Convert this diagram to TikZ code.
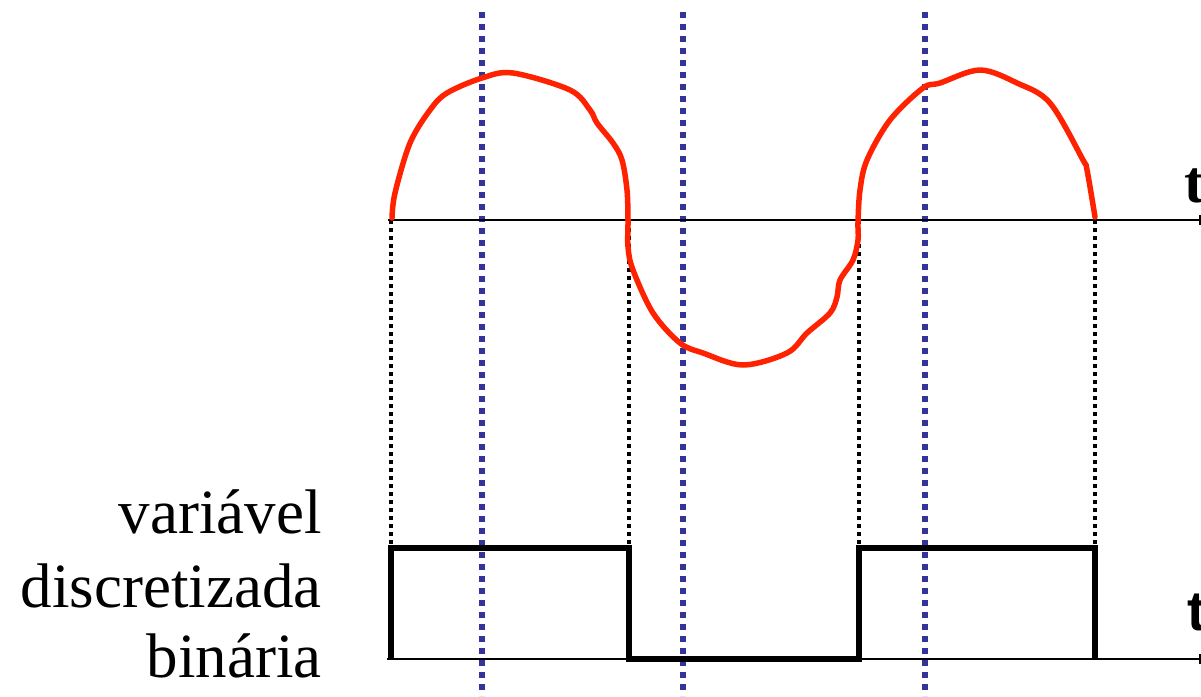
\documentclass[tikz,border=0pt]{standalone}
\usepackage{fontspec}
\setmainfont{Liberation Serif}
\newfontfamily\sansbold{Liberation Sans}
\usetikzlibrary{arrows.meta}
\definecolor{sigred}{HTML}{FF2200}
\definecolor{gridblue}{HTML}{333399}
\tikzset{
  axisline/.style={line width=2pt,-{Bar[width=10pt,line width=2pt]}},
  bluedot/.style={gridblue,line width=5.5pt,dash pattern=on 6pt off 6pt},
  blackdot/.style={black,line width=3.5pt,dash pattern=on 3.5pt off 4.5pt},
  wave/.style={black,line width=5.5pt,line join=miter},
  signal/.style={sigred,line width=5.5pt,line cap=round,line join=round},
  lbl/.style={font=\fontsize{63}{72}\selectfont,inner sep=0pt,anchor=base east},
  tlbl/.style={inner sep=0pt,anchor=base west}
}
\begin{document}
\begin{tikzpicture}[x=1pt,y=-1pt]
\useasboundingbox (0,0) rectangle (1201,696);
% coordinates
\coordinate (a0) at (388,220);
\coordinate (a1) at (1201,220);
\coordinate (b0) at (387,659);
\coordinate (b1) at (1201,659);
% blue sampling lines
\foreach \x/\n in {482/s1,683/s2,925/s3}{
  \coordinate (\n t) at (\x,12);
  \coordinate (\n b) at (\x,696);
  \draw[bluedot] (\n t) -- (\n b);
}
% black dotted transition lines
\foreach \x/\n in {391/d1,629/d2,859/d3,1095/d4}{
  \coordinate (\n t) at (\x,220);
  \coordinate (\n b) at (\x,548);
  \draw[blackdot] (\n t) -- (\n b);
}
% axes
\draw[axisline] (a0) -- (a1);
\draw[axisline] (b0) -- (b1);
% square wave
\coordinate (w0) at (391,659);
\coordinate (w1) at (391,548);
\coordinate (w2) at (629,548);
\coordinate (w3) at (629,659);
\coordinate (w4) at (859,659);
\coordinate (w5) at (859,548);
\coordinate (w6) at (1095,548);
\coordinate (w7) at (1095,659);
\draw[wave] (w0) -- (w1) -- (w2) -- (w3) -- (w4) -- (w5) -- (w6) -- (w7);
% analog signal
\draw[signal] plot[smooth,tension=0.55] coordinates {
 (392,218) (395,193) (410,143) (430,110) (447,93) (482,78) (513,73)
 (570,90) (590,110) (597,123) (613,143) (622,160) (627,190) (628,220)
 (628,247) (633,270) (653,313) (680,343) (703,353) (743,365) (787,353)
 (807,333) (830,313) (837,297) (840,280) (853,260) (858,240) (858,222)
 (860,190) (867,160) (890,120) (923,88) (940,83) (980,70) (1017,83)
 (1050,103) (1083,160) (1087,170) (1095,217)};
% labels
\node[lbl] (l1) at (322,533) {variável};
\node[lbl] (l2) at (322,607) {discretizada};
\node[lbl] (l3) at (322,677) {binária};
\node[tlbl,font=\bfseries\fontsize{60}{60}\selectfont] (t1) at (1184,202) {t};
\node[tlbl,font=\sansbold\bfseries\fontsize{56}{56}\selectfont] (t2) at (1187,630) {t};
\end{tikzpicture}
\end{document}
